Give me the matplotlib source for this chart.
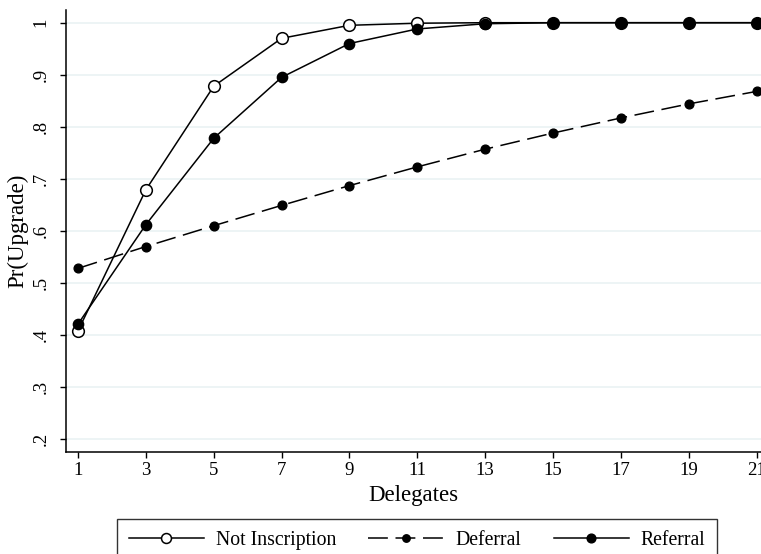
import numpy as np
import matplotlib
matplotlib.use("Agg")
import matplotlib.pyplot as plt

# data
delegates = [1, 3, 5, 7, 9, 11, 13, 15, 17, 19, 21]
not_inscription = [0.408, 0.679, 0.878, 0.970, 0.995, 0.999, 1.0, 1.0, 1.0, 1.0, 1.0]
deferral = [0.528, 0.570, 0.610, 0.649, 0.687, 0.723, 0.757, 0.788, 0.817, 0.844, 0.868]
referral = [0.421, 0.612, 0.778, 0.895, 0.960, 0.988, 0.998, 1.0, 1.0, 1.0, 1.0]

yticks = [0.2, 0.3, 0.4, 0.5, 0.6, 0.7, 0.8, 0.9, 1.0]
ytick_labels = ['.2', '.3', '.4', '.5', '.6', '.7', '.8', '.9', '1']

plt.rcParams['font.family'] = ['Liberation Serif', 'DejaVu Serif']

fig = plt.figure(figsize=(7.61, 5.54), dpi=100)
ax = fig.add_axes([66/761, 1 - 451.6/554, 1 - 66/761, (451.6 - 10)/554])

for y in yticks:
    ax.axhline(y, color='#eaf2f3', lw=1.2, zorder=0)

l1, = ax.plot(delegates, not_inscription, '-', color='black', lw=1.1,
              marker='o', markersize=8.4, markerfacecolor='white',
              markeredgecolor='black', markeredgewidth=1.1, label='Not Inscription')
l2, = ax.plot(delegates, deferral, color='black', lw=1.1, dashes=(13, 5),
              marker='o', markersize=6.3, label='Deferral')
l3, = ax.plot(delegates, referral, '-', color='black', lw=1.1,
              marker='o', markersize=7.4, label='Referral')

ax.set_xlim(0.646, 21.13)
ax.set_ylim(0.176, 1.0244)
ax.set_xticks(delegates)
ax.set_xticklabels([str(d) for d in delegates])
ax.set_yticks(yticks)
ax.set_yticklabels(ytick_labels, rotation=90, va='center')

ax.spines['top'].set_visible(False)
ax.spines['right'].set_visible(False)
ax.spines['left'].set_linewidth(1.1)
ax.spines['bottom'].set_linewidth(1.1)
ax.tick_params(direction='out', length=4.5, width=1, labelsize=13.5)
ax.tick_params(axis='x', pad=3)
ax.tick_params(axis='y', pad=7.5)

ax.set_xlabel('Delegates', fontsize=16.5, labelpad=4)
ax.set_ylabel('Pr(Upgrade)', fontsize=16.5, labelpad=3)

leg = fig.legend(handles=[l1, l2, l3], loc='upper center',
                 bbox_to_anchor=(417/761, 1 - 519/554), borderaxespad=0,
                 ncol=3, fontsize=14.2, frameon=True, fancybox=False,
                 edgecolor='black', handlelength=3.8, columnspacing=1.65,
                 handletextpad=0.6, borderpad=0.6, markerscale=0.85)
leg.get_frame().set_linewidth(1.0)

fig.savefig('out.png', dpi=100)
